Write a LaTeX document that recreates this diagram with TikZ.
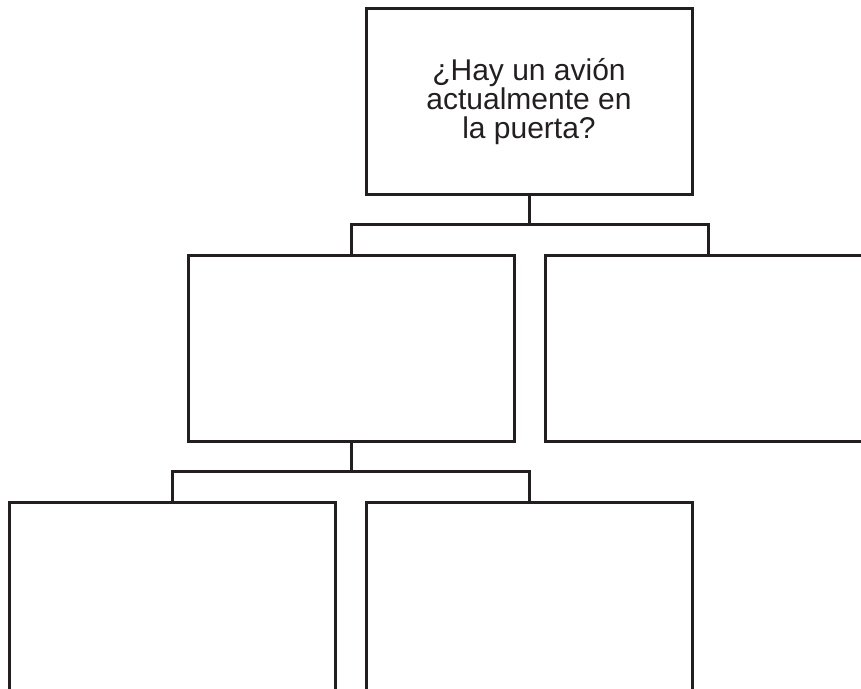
\documentclass[tikz,border=0pt]{standalone}
\usepackage{fontspec}
\setmainfont{Liberation Sans}
\definecolor{ink}{HTML}{231F20}
\begin{document}
\begin{tikzpicture}[x=1pt,y=-1pt,
  box/.style={draw=ink,line width=3pt,fill=white,rectangle,inner sep=0pt,outer sep=0pt,
    minimum width=326pt,minimum height=186pt},
  tallbox/.style={box,minimum height=189pt},
  link/.style={draw=ink,line width=3pt}]
\useasboundingbox (0,0) rectangle (861,688);
\clip (0,0) rectangle (861,688);
\fill[white] (0,0) rectangle (861,688);
\node[box] (top) at (529,101) {};
\node[box] (ml) at (351,348) {};
\node[box] (mr) at (708,348) {};
\node[tallbox] (bl) at (172,596.5) {};
\node[tallbox] (br) at (529,596.5) {};
\node[align=center,font=\fontsize{30}{29}\selectfont,text=ink,inner sep=0pt,anchor=base] (q) at (529,138)
  {¿Hay un avión\\actualmente en\\la puerta?};
\coordinate (j1) at (529,224);
\coordinate (j2) at (351,471);
\draw[link] (top.south) -- (j1);
\draw[link] (ml.north) |- (j1) -| (mr.north);
\draw[link] (ml.south) -- (j2);
\draw[link] (bl.north) |- (j2) -| (br.north);
\end{tikzpicture}
\end{document}
